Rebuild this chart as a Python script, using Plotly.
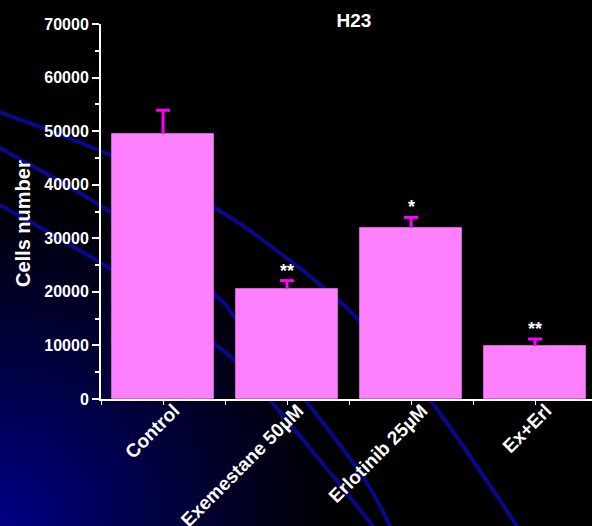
import base64
import plotly.graph_objects as go

# ---- data ----
categories = ["Control", "Exemestane 50µM", "Erlotinib 25µM", "Ex+Erl"]
cells = [49500, 20600, 32000, 9900]
errors = [4400, 1500, 1900, 1300]
stars = ["", "**", "*", "**"]
y_ticks = [0, 10000, 20000, 30000, 40000, 50000, 60000, 70000]
y_tick_labels = ["0", "10000", "20000", "30000", "40000", "50000", "60000", "70000"]

W, H = 592, 526
L, R, T, B = 101, 0, 24, 127
FONT = "Arial, 'Liberation Sans', Helvetica, sans-serif"

# ---- decorative background (slide template): gradient + blue curves ----
def smooth_path(pts):
    d = f"M{pts[0][0]},{pts[0][1]}"
    for i in range(len(pts) - 1):
        p0 = pts[i - 1] if i > 0 else pts[i]
        p1 = pts[i]
        p2 = pts[i + 1]
        p3 = pts[i + 2] if i + 2 < len(pts) else pts[i + 1]
        c1 = (p1[0] + (p2[0] - p0[0]) / 6, p1[1] + (p2[1] - p0[1]) / 6)
        c2 = (p2[0] - (p3[0] - p1[0]) / 6, p2[1] - (p3[1] - p1[1]) / 6)
        d += f" C{c1[0]:.1f},{c1[1]:.1f} {c2[0]:.1f},{c2[1]:.1f} {p2[0]},{p2[1]}"
    return d

curves = [
    [(-10, 108), (0, 112), (110, 155), (215, 208), (280, 253), (338, 300),
     (360, 322), (430, 400), (517, 526), (528, 545)],
    [(-10, 142), (0, 148), (112, 213), (213, 293), (237, 320), (305, 400),
     (363, 477), (390, 526), (398, 545)],
    [(-10, 199), (0, 205), (112, 270), (213, 343), (237, 363), (270, 400),
     (373, 526), (385, 545)],
]
paths = "".join(
    f'<path d="{smooth_path(c)}" fill="none" stroke="#08088c" stroke-width="4"/>'
    for c in curves
)
svg = (
    f'<svg xmlns="http://www.w3.org/2000/svg" width="{W}" height="{H}" viewBox="0 0 {W} {H}" preserveAspectRatio="none">'
    '<defs><radialGradient id="g" gradientUnits="userSpaceOnUse" cx="0" cy="526" r="340">'
    '<stop offset="0" stop-color="#000086"/>'
    '<stop offset="0.5" stop-color="#00003e"/>'
    '<stop offset="1" stop-color="#000000"/>'
    '</radialGradient></defs>'
    f'<rect width="{W}" height="{H}" fill="#000"/>'
    f'<rect width="{W}" height="{H}" fill="url(#g)"/>'
    + paths + '</svg>'
)
bg_src = "data:image/svg+xml;base64," + base64.b64encode(svg.encode()).decode()

pw, ph = W - L - R, H - T - B
x_pos = list(range(len(categories)))
tops = [v + e for v, e in zip(cells, errors)]

fig = go.Figure()
fig.add_trace(go.Bar(
    x=x_pos, y=cells, width=0.82,
    marker=dict(color="#FF80FF", line=dict(color="#D060D0", width=1)),
    error_y=dict(type="data", symmetric=False, array=errors,
                 arrayminus=[0] * len(errors),
                 color="#FF00FF", thickness=3, width=0),
    showlegend=False,
))
# error-bar caps (top only)
fig.add_trace(go.Scatter(
    x=x_pos, y=tops, mode="markers",
    marker=dict(symbol="line-ew", size=10, color="#FF00FF",
                line=dict(color="#FF00FF", width=3)),
    showlegend=False, hoverinfo="skip",
))

for xp, tp, s in zip(x_pos, tops, stars):
    if s:
        fig.add_annotation(x=xp, y=tp, text=s, showarrow=False,
                           yanchor="bottom", yshift=-2,
                           font=dict(family=FONT, size=18, color="white", weight="bold"))

fig.add_annotation(xref="paper", yref="paper",
                   x=(23 - L) / pw, y=(H - B - 224) / ph,
                   text="Cells number", textangle=-90, showarrow=False,
                   xanchor="center", yanchor="middle",
                   font=dict(family=FONT, size=20, color="white", weight="bold"))

fig.update_layout(
    width=W, height=H,
    margin=dict(l=L, r=R, t=T, b=B, pad=0, autoexpand=False),
    paper_bgcolor="black", plot_bgcolor="rgba(0,0,0,0)",
    title=dict(text="H23", x=354 / W, xanchor="center", y=1 - 20 / H, yanchor="middle",
               font=dict(family=FONT, size=19, color="white", weight="bold")),
    images=[dict(source=bg_src, xref="paper", yref="paper",
                 x=-L / pw, y=1 + T / ph, sizex=W / pw, sizey=H / ph,
                 xanchor="left", yanchor="top", sizing="stretch", layer="below")],
    bargap=0,
)
fig.update_xaxes(
    automargin=False,
    range=[-0.5, -0.5 + pw / 124], tickmode="array", tickvals=x_pos, ticktext=categories,
    tickangle=-45, ticks="outside", ticklen=4, tickwidth=1, tickcolor="white",
    ticklabelshift=11, ticklabelstandoff=-13,
    minor=dict(dtick=0.5, tick0=0.5, ticks="outside", ticklen=4, tickwidth=1, tickcolor="white"),
    showline=True, linecolor="white", linewidth=2, showgrid=False, zeroline=False,
    tickfont=dict(family=FONT, size=19, color="white", weight="bold"),
)
fig.update_yaxes(
    automargin=False,
    range=[0, 70000], tickmode="array", tickvals=y_ticks, ticktext=y_tick_labels,
    ticks="outside", ticklen=7, tickwidth=2, tickcolor="white",
    minor=dict(dtick=5000, ticks="outside", ticklen=4, tickwidth=2, tickcolor="white"),
    showline=True, linecolor="white", linewidth=2, showgrid=False, zeroline=False,
    tickfont=dict(family=FONT, size=16, color="white", weight="bold"),
)

fig.write_html("out.html")
